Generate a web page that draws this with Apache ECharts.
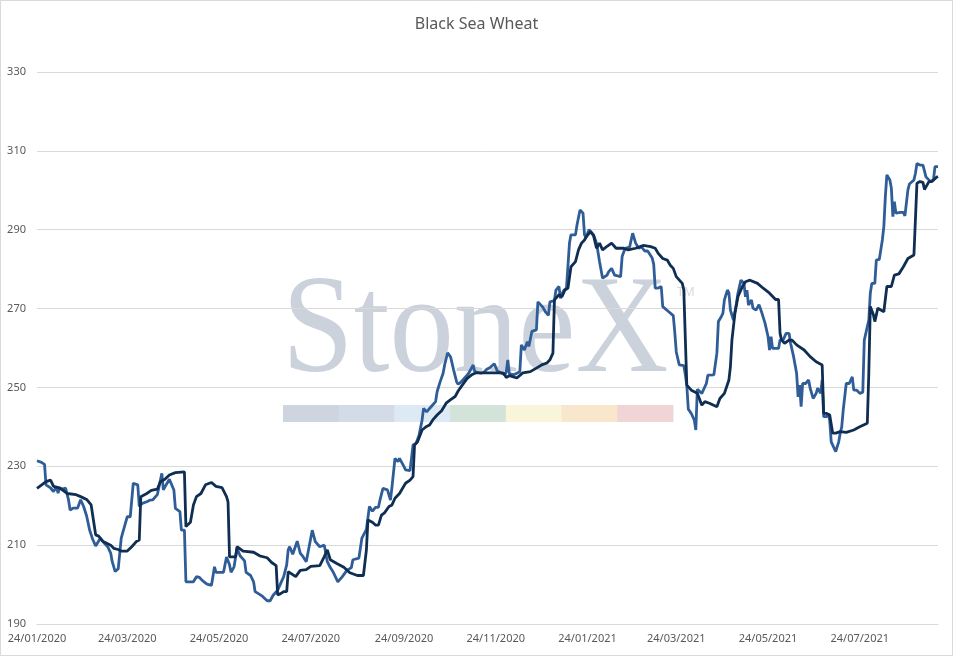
<!DOCTYPE html>
<html>
<head>
<meta charset="utf-8">
<title>Black Sea Wheat</title>
<script src="https://cdn.jsdelivr.net/npm/echarts@6/dist/echarts.min.js"></script>
<style>
  html, body { margin: 0; padding: 0; background: #ffffff; }
  #chart { width: 953px; height: 656px; }
</style>
</head>
<body>
<div id="chart"></div>
<script>
// daily calendar axis, 24/01/2020 .. 14/09/2021
const startDate = [2020, 0, 24];
const dayCount = 600;

// y axis ticks
const yMin = 190;
const yMax = 330;
const yStep = 20;

// dark navy series: day offset from start, price
const darkDays = [0, 6, 9, 11, 15, 20, 26, 29, 33, 36, 39, 41, 44, 49, 51, 54, 56, 60, 63, 66, 68, 69, 73, 76, 80, 82, 85, 88, 92, 98, 99, 102, 104, 106, 109, 112, 116, 119, 123, 126, 127, 128, 132, 133, 137, 144, 148, 153, 156, 159, 160, 162, 164, 166, 167, 172, 175, 179, 182, 188, 191, 193, 195, 199, 204, 208, 213, 217, 219, 220, 223, 225, 227, 229, 231, 234, 236, 238, 241, 245, 248, 250, 251, 253, 256, 257, 259, 261, 263, 266, 269, 272, 275, 278, 280, 282, 286, 289, 292, 297, 306, 310, 312, 314, 319, 323, 328, 332, 336, 339, 341, 343, 344, 347, 349, 351, 353, 355, 358, 360, 362, 364, 365, 368, 370, 372, 374, 376, 379, 382, 385, 390, 393, 398, 401, 403, 408, 411, 413, 416, 419, 421, 423, 425, 429, 430, 432, 435, 439, 442, 444, 447, 452, 454, 457, 460, 461, 462, 464, 466, 469, 471, 474, 479, 483, 487, 491, 493, 494, 495, 497, 500, 502, 505, 510, 514, 518, 522, 523, 525, 527, 529, 531, 534, 538, 543, 547, 552, 553, 554, 556, 557, 559, 563, 565, 568, 570, 573, 576, 579, 583, 584, 585, 587, 589, 590, 593, 595, 598, 599];
const darkValues = [224.4, 226.1, 226.5, 224.9, 224.5, 223.1, 222.8, 222.3, 221.6, 220.2, 212.6, 212.3, 210.9, 210, 209.2, 208.9, 208.5, 208.5, 209.6, 210.9, 211.3, 222.3, 223.1, 223.9, 224.2, 226.1, 226.7, 227.8, 228.4, 228.6, 214.7, 215.8, 220.2, 222.3, 223.1, 225.3, 225.9, 224.9, 224.6, 222.3, 221, 207, 207, 209.6, 208.5, 208.2, 207.3, 206.8, 205.6, 204.8, 197.4, 197.7, 198.2, 198.2, 203.3, 202, 203.6, 203.8, 204.6, 204.8, 207.1, 208.8, 206.3, 205.4, 204.4, 203, 202.3, 202.3, 208.8, 216.4, 215.8, 215.1, 215.1, 217.6, 218.2, 219.8, 220.2, 221.9, 223.1, 225.7, 226.5, 227.4, 235.4, 236.2, 239.2, 239.6, 240.1, 240.5, 241.7, 243, 244.1, 246, 246.9, 247.7, 249.1, 250.2, 252.3, 253.2, 253.7, 253.7, 253.7, 253.7, 252.5, 253, 252.4, 253.7, 254, 254.9, 255.8, 256.2, 257, 258.7, 272.2, 273.5, 273, 274.7, 275.2, 280.6, 281.9, 284.9, 286.6, 287.4, 288.1, 289.5, 288.5, 285.3, 286.6, 284.9, 285.8, 286.6, 285.3, 285.3, 284.9, 285.3, 285.7, 286, 285.7, 285.3, 284, 282.7, 282.3, 281, 280.2, 278.1, 276.4, 274.7, 250.6, 249.3, 248.5, 245.5, 246.4, 246, 245.1, 247.2, 248.5, 251.9, 255.3, 262, 268.8, 273, 275.6, 276.8, 277.2, 276.4, 275.1, 273.9, 272.3, 272.3, 263.7, 262, 261.2, 262, 262, 260.8, 259.5, 257.8, 256.5, 255.7, 243.4, 243.4, 243, 238.4, 238.4, 238.8, 238.6, 239.2, 240, 240.9, 253.6, 270.5, 268.5, 266.7, 270.1, 269.2, 275.6, 275.6, 278.5, 278.8, 280.6, 282.7, 283.6, 283.8, 301.8, 302.2, 302, 300.2, 302.2, 302.2, 303.3, 303.5];

// medium blue series
const blueDays = [0, 3, 5, 6, 9, 11, 13, 14, 15, 17, 19, 21, 22, 24, 27, 29, 31, 33, 35, 37, 39, 42, 45, 47, 49, 50, 52, 54, 55, 56, 58, 60, 62, 64, 67, 68, 70, 73, 75, 77, 80, 81, 83, 84, 86, 88, 91, 92, 95, 96, 98, 99, 104, 106, 108, 110, 113, 116, 118, 119, 124, 126, 128, 129, 131, 133, 135, 138, 139, 142, 144, 145, 148, 150, 153, 155, 157, 160, 164, 166, 167, 168, 170, 173, 175, 177, 179, 183, 185, 188, 191, 193, 195, 197, 200, 203, 206, 209, 210, 214, 215, 216, 217, 219, 221, 223, 225, 227, 228, 230, 233, 235, 236, 238, 240, 241, 244, 245, 248, 250, 252, 254, 256, 257, 259, 260, 262, 265, 266, 268, 270, 271, 273, 275, 277, 279, 280, 282, 285, 287, 288, 290, 291, 292, 295, 297, 299, 301, 304, 306, 309, 311, 312, 313, 314, 317, 319, 321, 322, 323, 324, 326, 327, 329, 332, 333, 336, 338, 340, 341, 344, 345, 347, 348, 350, 352, 353, 354, 355, 358, 359, 361, 363, 364, 365, 367, 370, 372, 374, 376, 379, 380, 382, 384, 385, 388, 389, 391, 392, 394, 396, 398, 400, 402, 404, 406, 409, 410, 411, 413, 415, 416, 420, 423, 424, 425, 427, 430, 431, 432, 433, 435, 437, 438, 439, 442, 443, 445, 446, 450, 451, 452, 453, 455, 456, 457, 459, 460, 461, 463, 465, 466, 468, 470, 471, 472, 473, 475, 476, 478, 480, 482, 484, 486, 487, 488, 489, 493, 494, 496, 498, 500, 501, 503, 505, 506, 507, 508, 509, 511, 513, 514, 516, 518, 519, 521, 522, 523, 525, 526, 527, 528, 529, 531, 533, 534, 535, 536, 537, 538, 540, 542, 543, 545, 547, 549, 550, 553, 554, 555, 557, 558, 560, 562, 563, 564, 565, 567, 568, 569, 570, 571, 574, 576, 577, 579, 580, 583, 584, 585, 587, 589, 591, 594, 596, 597, 599];
const blueValues = [231.4, 231, 230.5, 225.3, 224.5, 223.6, 224.8, 223.2, 224.5, 224.2, 224.5, 221.4, 218.9, 219.4, 219.4, 221.5, 219.8, 217.4, 213.8, 211.5, 209.8, 211.7, 210.4, 209.6, 208, 205.8, 203.3, 204, 204, 211.8, 214.5, 217.2, 217.2, 225.7, 225.3, 219.8, 220.6, 221, 221.4, 221.5, 222.8, 222.8, 228.2, 224, 225.4, 226.7, 224, 219.3, 218.5, 213.8, 213.8, 200.7, 200.7, 202, 201.8, 201, 200.1, 199.8, 204.5, 203.1, 203.1, 207, 205, 203.1, 204.5, 209.2, 207.3, 206, 203.1, 202.3, 200.7, 198.2, 197.5, 197, 195.9, 195.9, 197.3, 198.6, 202, 205, 208.8, 209.6, 207.7, 211, 208, 207, 205.8, 213.8, 210.9, 209.6, 210, 205.8, 204.3, 203.1, 200.7, 202, 203.6, 204.3, 206.3, 206.7, 207, 211.8, 212.2, 214, 219.8, 218.6, 219.6, 219.6, 221.4, 224.4, 224, 221.4, 224.8, 232, 231.2, 232, 229.9, 229.1, 228.9, 235.4, 235.8, 237.9, 241.7, 244.7, 243.8, 244.2, 245.1, 246.4, 248.9, 251.4, 253.6, 255.7, 258.8, 257.7, 254.4, 251.4, 250.8, 251.4, 252.7, 253.6, 253.2, 255.7, 254, 254, 253.6, 253.8, 254.6, 255, 256, 254.2, 253.6, 253.2, 254, 257, 253.5, 253.2, 253.6, 254, 260.8, 260.8, 259.5, 261.6, 260.4, 264.2, 264.6, 271.7, 270.5, 269.2, 268.3, 271.7, 272, 274.7, 275.6, 272.6, 274.5, 275.2, 275.2, 286.6, 288.7, 288.7, 291.2, 295, 294.2, 288.7, 288, 290, 288.7, 286.6, 281.9, 277.7, 278.5, 279.3, 280.2, 278.5, 278.1, 278.1, 283.2, 285.3, 284.9, 285.6, 289.1, 286.6, 285.3, 285.6, 284.6, 284.6, 282.8, 281.2, 275.2, 275.2, 275.6, 270.5, 269.2, 268.2, 264, 259, 255.7, 255.5, 253.3, 250.5, 244.5, 243.4, 241.7, 239.2, 249.5, 248.5, 248.3, 251, 253.1, 253.2, 253.2, 258.7, 266.7, 268, 268.8, 272.2, 274.7, 274, 269.6, 267.1, 271.3, 273.9, 277.2, 276.4, 273, 274.7, 270.9, 272.2, 270.1, 269.6, 271, 268.8, 266.3, 262.9, 259.5, 262.9, 259.9, 259.9, 262, 262, 263.7, 263.7, 261.2, 257.8, 253.6, 247.6, 250.6, 245.1, 251, 251, 251.9, 249.8, 247.2, 248.5, 249.8, 248.5, 251.9, 242.6, 242.6, 243.4, 241.7, 236.2, 235.8, 233.7, 236.2, 238.4, 240, 244.3, 244.5, 251, 251, 252.7, 249.3, 249.3, 248.5, 248.8, 262, 267.1, 273.9, 276.4, 276.4, 282.3, 282.5, 287.4, 290.8, 298.4, 303.9, 302.6, 300.5, 293.3, 297.1, 294.2, 294.4, 294.4, 293.5, 300.1, 301.6, 302.6, 304.3, 306.8, 306.4, 306.4, 303.4, 302.2, 302.7, 306, 306];

// watermark band colours
const bandColors = ['#cfd5de', '#d2dbe7', '#dde9f4', '#d4e3d9', '#f8f5da', '#f8e6cd', '#f0d4d6'];

const pad = n => String(n).padStart(2, '0');
const categories = [];
for (let i = 0; i < dayCount; i++) {
  const d = new Date(Date.UTC(startDate[0], startDate[1], startDate[2] + i));
  categories.push(pad(d.getUTCDate()) + '/' + pad(d.getUTCMonth() + 1) + '/' + d.getUTCFullYear());
}
// a label every two months, on the 24th of odd months
const isLabelDay = (idx, value) => {
  const parts = value.split('/');
  return parts[0] === '24' && Number(parts[1]) % 2 === 1;
};

const chart = echarts.init(document.getElementById('chart'), null, { renderer: 'canvas' });

const bandX = 283;
const bandW = 55.7;
const graphics = [
  {
    type: 'rect', z: 100, silent: true,
    shape: { x: 0.5, y: 0.5, width: 952, height: 655 },
    style: { fill: 'none', stroke: '#d9d9d9', lineWidth: 1 }
  },
  {
    type: 'text', z: -10, silent: true,
    x: 282, y: 334, scaleX: 0.92,
    style: {
      text: 'StoneX', fill: '#cbd2dc',
      font: '140px "Liberation Serif", "DejaVu Serif", serif',
      align: 'left', verticalAlign: 'middle'
    }
  },
  {
    type: 'text', z: -10, silent: true,
    x: 677, y: 293,
    style: {
      text: 'TM', fill: '#d6dae1',
      font: '12px "Noto Sans", sans-serif',
      align: 'left', verticalAlign: 'middle'
    }
  }
];
bandColors.forEach((c, i) => {
  graphics.push({
    type: 'rect', z: -10, silent: true,
    shape: { x: bandX + i * bandW, y: 405, width: bandW + 0.5, height: 17 },
    style: { fill: c }
  });
});

const option = {
  backgroundColor: '#ffffff',
  animation: false,
  textStyle: { fontFamily: '"Noto Sans", sans-serif' },
  title: {
    text: 'Black Sea Wheat',
    left: 'center',
    top: 11,
    textStyle: { fontSize: 16, fontWeight: 'normal', color: '#595959', fontFamily: '"Noto Sans", sans-serif' }
  },
  grid: { left: 37, right: 15, top: 72, bottom: 32, containLabel: false },
  xAxis: {
    type: 'category',
    data: categories,
    boundaryGap: false,
    axisLine: { show: true, lineStyle: { color: '#d9d9d9', width: 1 } },
    axisTick: { show: false },
    splitLine: { show: false },
    axisLabel: {
      interval: isLabelDay,
      color: '#595959',
      fontSize: 11,
      margin: 9
    }
  },
  yAxis: {
    type: 'value',
    min: yMin,
    max: yMax,
    interval: yStep,
    axisLine: { show: false },
    axisTick: { show: false },
    splitLine: { lineStyle: { color: '#d9d9d9', width: 1 } },
    axisLabel: { color: '#595959', fontSize: 11, margin: 11 }
  },
  graphic: graphics,
  series: [
    {
      name: 'Blue',
      type: 'line',
      data: blueDays.map((d, i) => [d, blueValues[i]]),
      showSymbol: false,
      symbol: 'none',
      lineStyle: { color: '#2f5d98', width: 2.8 },
      z: 3
    },
    {
      name: 'Navy',
      type: 'line',
      data: darkDays.map((d, i) => [d, darkValues[i]]),
      showSymbol: false,
      symbol: 'none',
      lineStyle: { color: '#0f2e52', width: 2.8 },
      z: 4
    }
  ]
};

chart.setOption(option);
</script>
</body>
</html>
